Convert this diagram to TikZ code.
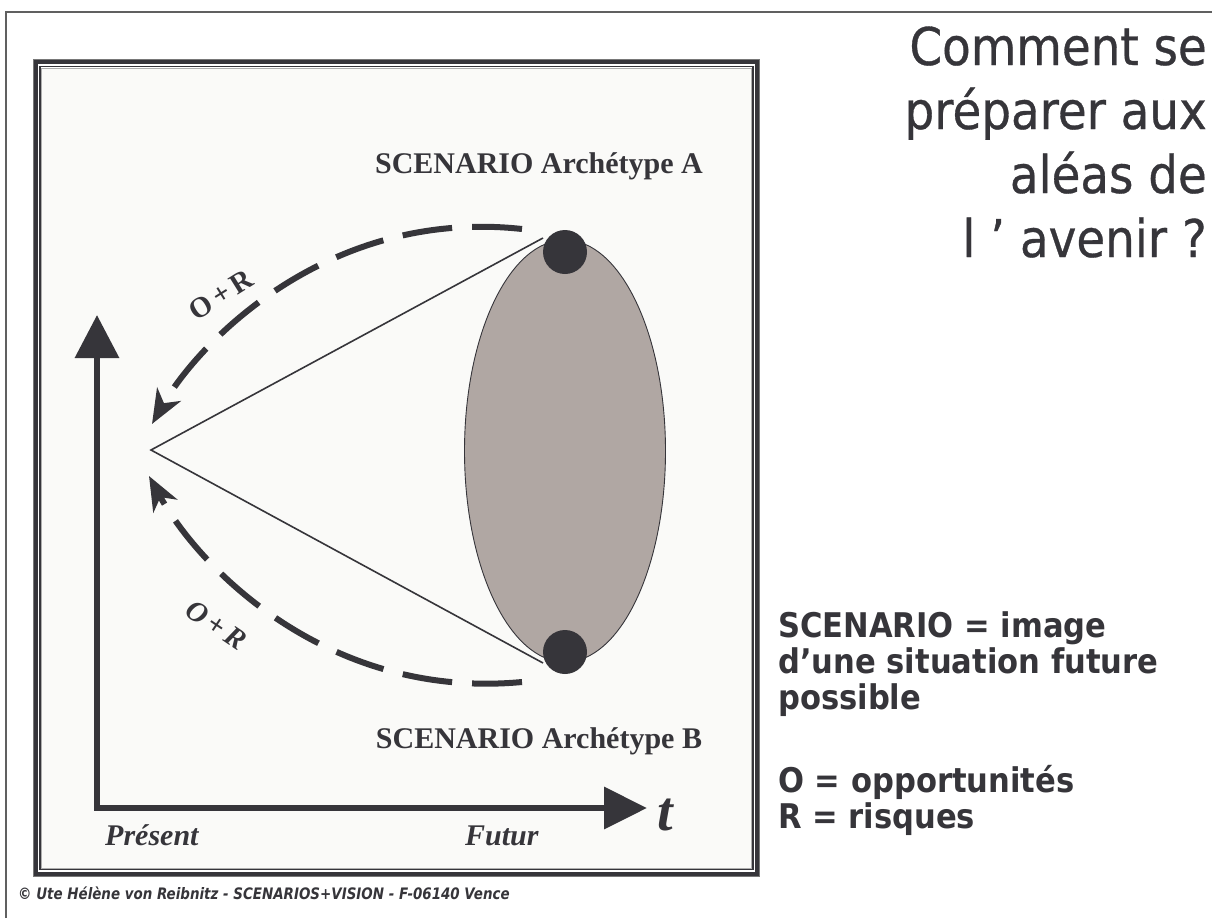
\documentclass[tikz,border=0pt]{standalone}
\usepackage{fontspec}
\setmainfont{Liberation Serif}
\newfontfamily\tah[FakeStretch=0.9]{DejaVu Sans}
\newfontfamily\tahtitle[FakeStretch=0.9,FakeBold=0.6]{DejaVu Sans}
\newfontfamily\tahfoot[FakeStretch=0.85]{DejaVu Sans}
\usetikzlibrary{arrows.meta,shapes.geometric}
\definecolor{ink}{RGB}{54,53,58}
\definecolor{paper}{RGB}{250,250,248}
\definecolor{taupe}{RGB}{176,167,163}
\definecolor{framegrey}{RGB}{120,120,120}
\tikzset{
  axisline/.style={draw=ink, line width=6.5pt, line join=miter},
  dasharc/.style={draw=ink, line width=6pt, dash pattern=on 50pt off 20pt, line cap=butt},
  thinline/.style={draw=ink, line width=1.6pt},
  dotnode/.style={circle, fill=ink, minimum size=44pt, inner sep=0pt},
  serifbig/.style={text=ink, inner sep=0pt, font=\fontsize{30}{36}\selectfont\bfseries},
  titleline/.style={text=ink, inner sep=0pt, anchor=base east, font=\tahtitle\fontsize{52}{64}\selectfont},
  legend/.style={text=ink, inner sep=0pt, anchor=base west, font=\tah\fontsize{34}{40}\selectfont\bfseries},
  orlabel/.style={text=ink, inner sep=0pt, font=\fontsize{29}{34}\selectfont\bfseries},
}
\begin{document}
\begin{tikzpicture}[x=1pt,y=-1pt]
\useasboundingbox (0,0) rectangle (1212,918);
\fill[white] (0,0) rectangle (1212,918);
% outer page frame
\draw[framegrey!80!black, line width=1.6pt] (6,918) -- (6,12) -- (1212,12);
% inner framed panel
\fill[paper] (41,68) rectangle (751,868);
\draw[framegrey, line width=1pt] (33.5,59.5) rectangle (759.5,876.5);
\draw[ink, line width=3.6pt] (36,62) rectangle (757,874);
\draw[ink, line width=1.5pt] (40,66.5) rectangle (753,869.5);
\draw[framegrey!60, line width=0.8pt] (41.5,68.3) rectangle (751.5,868);
% ellipse and dots
\node[ellipse, draw=ink, line width=0.9pt, fill=taupe, minimum width=201pt, minimum height=422pt, inner sep=0pt] (ell) at (565,451) {};
\node[dotnode] (dotA) at (565,252) {};
\node[dotnode] (dotB) at (565,652) {};
% apex lines
\coordinate (apex) at (151,450);
\coordinate (la) at (543,238);
\coordinate (lb) at (543,663);
\draw[thinline] (la) -- (apex) -- (lb);
% dashed arcs
\coordinate (arcAs) at (522,229);
\coordinate (arcAe) at (152,424);
\coordinate (arcBs) at (522,682);
\coordinate (arcBe) at (149,476);
\draw[dasharc, -{Stealth[length=34pt,width=27pt,inset=10pt]}] (arcAs) .. controls (330,208) and (200,340) .. (arcAe);
\draw[dasharc, -{Stealth[length=34pt,width=27pt,inset=10pt]}] (arcBs) .. controls (330,700) and (200,570) .. (arcBe);
% axes
\coordinate (ytip) at (97,315);
\coordinate (corner) at (97,808);
\coordinate (xtip) at (647,808);
\draw[axisline, {Triangle[length=43pt,width=43pt]}-{Triangle[length=43pt,width=41pt]}] (ytip) -- (corner) -- (xtip);
% labels
\node[serifbig, anchor=base] (scA) at (539,173) {SCENARIO Archétype A};
\node[serifbig, anchor=base] (scB) at (539,748) {SCENARIO Archétype B};
\node[serifbig, anchor=base west, font=\fontsize{30}{36}\selectfont\bfseries\itshape] (pres) at (105,845) {Présent};
\node[serifbig, anchor=base west, font=\fontsize{30}{36}\selectfont\bfseries\itshape] (fut) at (465,845) {Futur};
\node[serifbig, anchor=base west, font=\fontsize{56}{60}\selectfont\bfseries\itshape] (tlab) at (657,830) {t};
\node[orlabel, rotate=32] (orA) at (221,295) {O\hspace{5pt}+\hspace{5pt}R};
\node[orlabel, rotate=-34, font=\fontsize{29}{34}\selectfont\bfseries\itshape] (orB) at (216,625) {O\hspace{5pt}+\hspace{5pt}R};
% title
\node[titleline] (ti1) at (1207,65) {Comment se};
\node[titleline] (ti2) at (1207,129) {préparer aux};
\node[titleline] (ti3) at (1207,193) {aléas de};
\node[titleline] (ti4) at (1207,257) {l ’ avenir ?};
% legend
\node[legend] (lg1) at (778,637) {SCENARIO = image};
\node[legend] (lg2) at (778,673) {d’une situation future};
\node[legend] (lg3) at (778,709) {possible};
\node[legend] (lg4) at (778,792) {O = opportunités};
\node[legend] (lg5) at (778,828) {R = risques};
% footer
\node[text=ink, inner sep=0pt, anchor=base west, font=\tahfoot\fontsize{15.8}{18}\selectfont\bfseries\itshape] (foot) at (18,899) {© Ute Hélène von Reibnitz - SCENARIOS+VISION - F-06140 Vence};
\end{tikzpicture}
\end{document}
